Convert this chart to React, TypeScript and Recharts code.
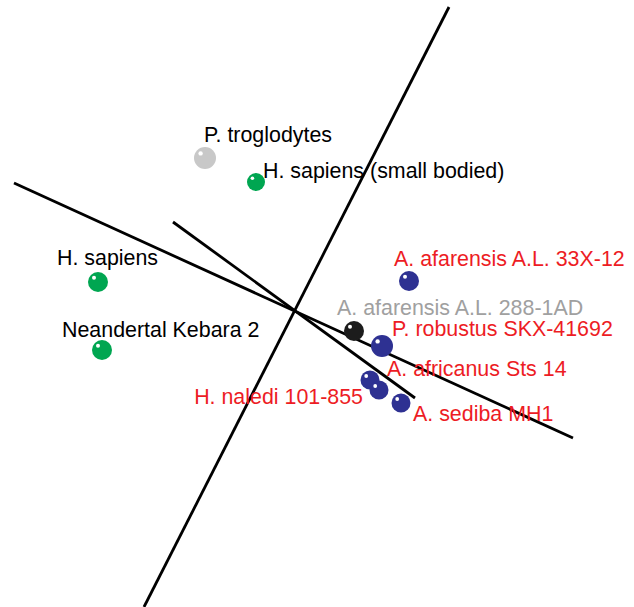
import { ScatterChart, Scatter, XAxis, YAxis } from "recharts";

// Specimen scores on the two plotted components
const specimens = [
  "P. troglodytes",
  "H. sapiens (small bodied)",
  "H. sapiens",
  "Neandertal Kebara 2",
  "A. afarensis A.L. 33X-12",
  "A. afarensis A.L. 288-1AD",
  "P. robustus SKX-41692",
  "A. africanus Sts 14",
  "H. naledi 101-855",
  "A. sediba MH1",
];
const pc1 = [-0.89, -0.38, -1.96, -1.92, 1.15, 0.6, 0.88, 0.76, 0.85, 1.07];
const pc2 = [1.53, 1.29, 0.29, -0.39, 0.3, -0.2, -0.35, -0.69, -0.79, -0.92];
const groups = [
  "chimp",
  "human",
  "human",
  "human",
  "fossil",
  "reference",
  "fossil",
  "fossil",
  "fossil",
  "fossil",
];

// Three projected axes, drawn as segments through the origin
const axisStartX = [-1.5, -2.8, -1.21];
const axisStartY = [-2.96, 1.28, 0.89];
const axisEndX = [1.55, 2.79, 1.21];
const axisEndY = [3.04, -1.27, -0.87];

const groupStyle: Record<string, { fill: string; text: string }> = {
  chimp: { fill: "#c8c8c8", text: "#000000" },
  human: { fill: "#00a651", text: "#000000" },
  fossil: { fill: "#2e3192", text: "#ed1c24" },
  reference: { fill: "#1c1c1c", text: "#a0a0a0" },
};

// label placement relative to the dot centre: [dx, dy, anchor]
const labelPlacement: Record<string, [number, number, "start" | "end"]> = {
  "P. troglodytes": [-1, -16, "start"],
  "H. sapiens (small bodied)": [7, -4, "start"],
  "H. sapiens": [-41, -17, "start"],
  "Neandertal Kebara 2": [-40, -13, "start"],
  "A. afarensis A.L. 33X-12": [-15, -15, "start"],
  "A. afarensis A.L. 288-1AD": [-17, -16, "start"],
  "P. robustus SKX-41692": [10, -10, "start"],
  "A. africanus Sts 14": [17, -4, "start"],
  "H. naledi 101-855": [-16, 14, "end"],
  "A. sediba MH1": [12, 18, "start"],
};

const dotRadius: Record<string, number> = {
  "P. troglodytes": 11,
  "H. sapiens (small bodied)": 9,
  "P. robustus SKX-41692": 11,
  "A. africanus Sts 14": 9.5,
  "H. naledi 101-855": 9.5,
  "A. sediba MH1": 9.5,
};

const points = specimens.map((name, i) => ({
  name,
  x: pc1[i],
  y: pc2[i],
  group: groups[i],
}));

const axisSegments = axisStartX.map((_, i) => [
  { x: axisStartX[i], y: axisStartY[i] },
  { x: axisEndX[i], y: axisEndY[i] },
]);

const Sphere = (props: any) => {
  const { cx, cy, payload } = props;
  if (cx == null || cy == null) return <g />;
  const style = groupStyle[payload.group];
  const r = dotRadius[payload.name] ?? 10;
  const [dx, dy, anchor] = labelPlacement[payload.name];
  return (
    <g>
      <circle cx={cx} cy={cy} r={r} fill={style.fill} />
      <circle cx={cx - r * 0.4} cy={cy - r * 0.42} r={r * 0.2} fill="#ffffff" />
      <text
        x={cx + dx}
        y={cy + dy}
        textAnchor={anchor}
        fill={style.text}
        fontSize={21.4}
        fontFamily="'Liberation Sans', Arial, sans-serif"
      >
        {payload.name}
      </text>
    </g>
  );
};

export default function App() {
  return (
    <div
      style={{
        position: "absolute",
        left: 0,
        top: 0,
        width: 634,
        height: 607,
        background: "#fff",
      }}
    >
      <ScatterChart
        width={634}
        height={607}
        margin={{ top: 0, right: 0, bottom: 0, left: 0 }}
      >
        <XAxis type="number" dataKey="x" domain={[-2.94, 3.4]} hide allowDataOverflow />
        <YAxis type="number" dataKey="y" domain={[-2.96, 3.11]} hide allowDataOverflow />
        {axisSegments.map((seg, i) => (
          <Scatter
            key={`axis-${i}`}
            data={seg}
            line={{ stroke: "#000", strokeWidth: 2.8 }}
            shape={() => <g />}
            isAnimationActive={false}
          />
        ))}
        <Scatter data={points} shape={Sphere} isAnimationActive={false} />
      </ScatterChart>
    </div>
  );
}
